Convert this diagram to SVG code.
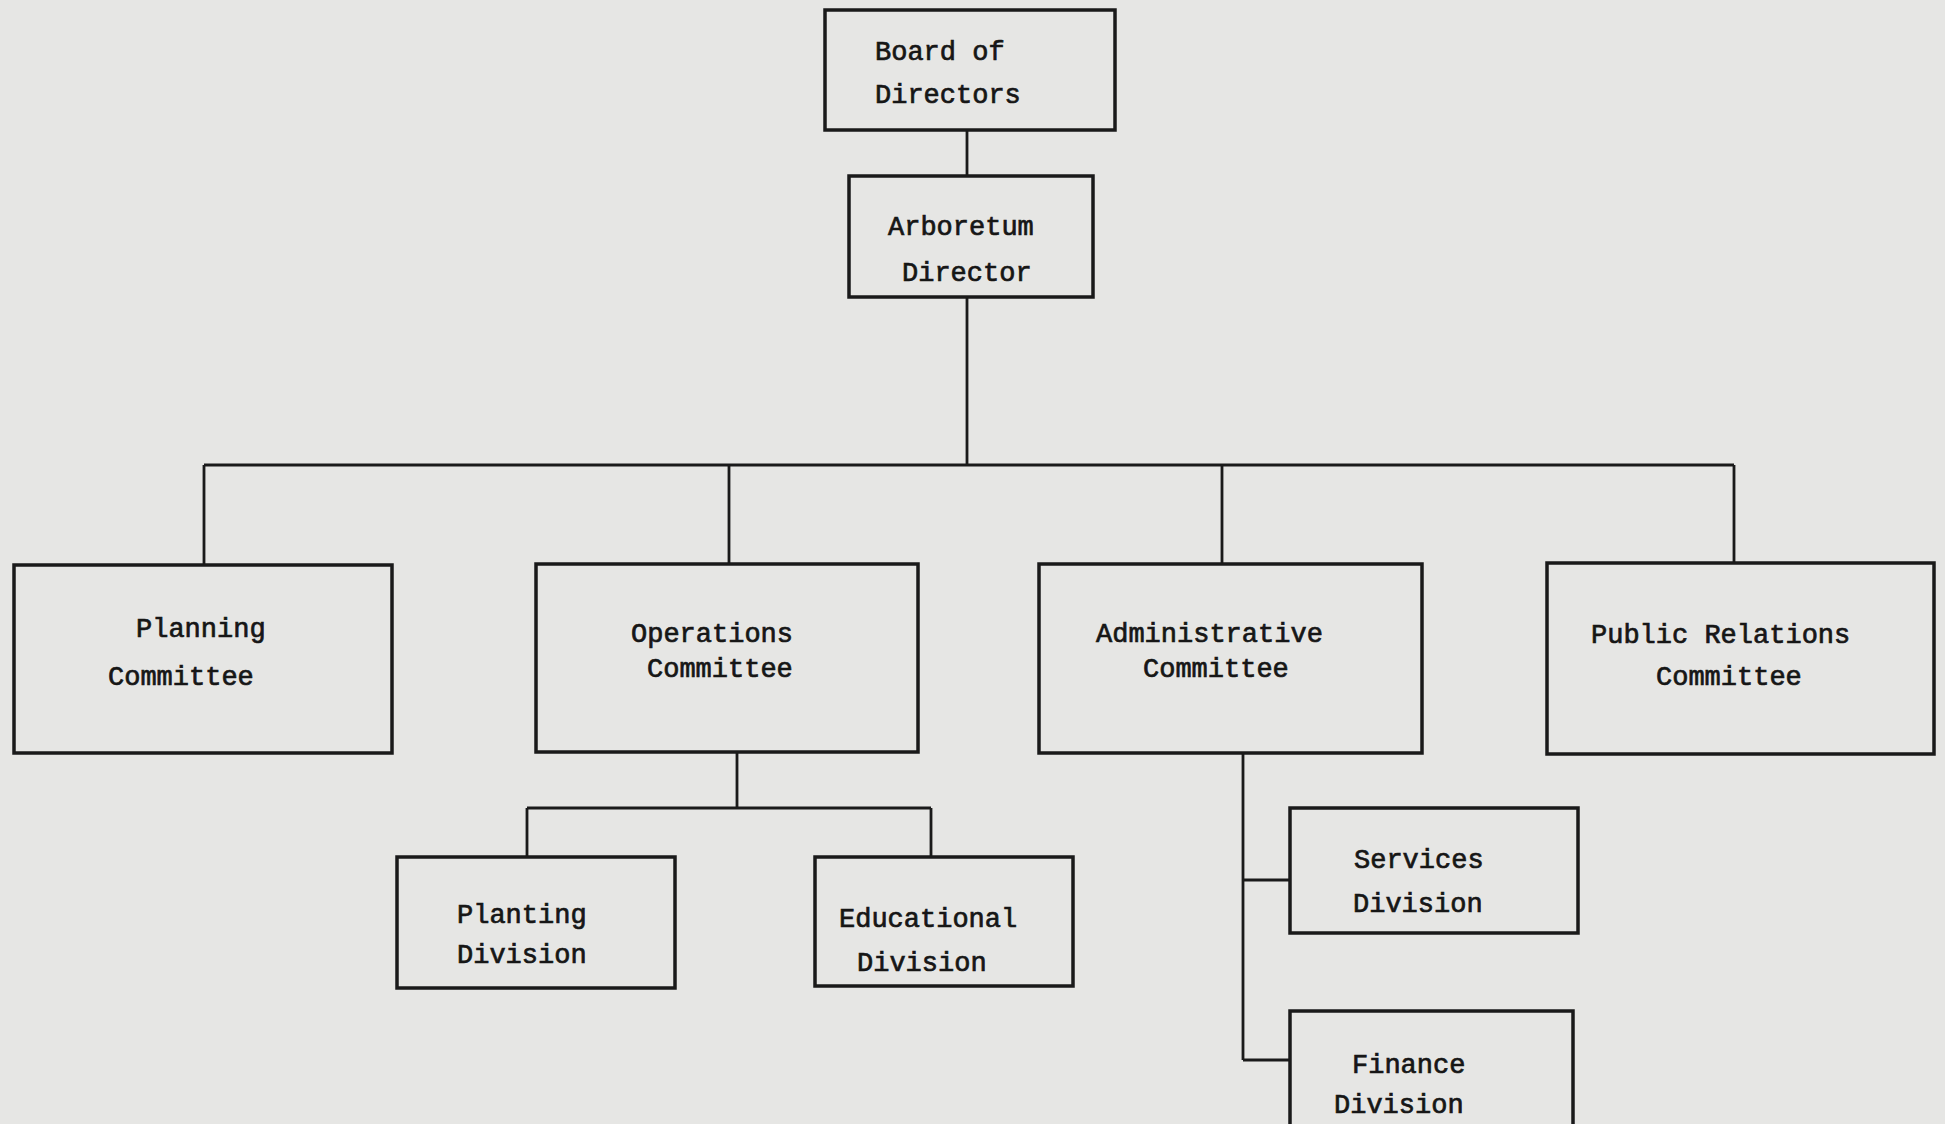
<svg xmlns="http://www.w3.org/2000/svg" width="1945" height="1124" viewBox="0 0 1945 1124">
<style>
.bg{fill:#e6e6e4}
.box{fill:none;stroke:#1a1a1a;stroke-width:3.5}
.ln{fill:none;stroke:#1a1a1a;stroke-width:2.8}
text{font-family:"Liberation Mono","Courier New",monospace;font-size:27px;fill:#161616;stroke:#161616;stroke-width:0.7}
</style>
<rect class="bg" x="0" y="0" width="1945" height="1124"/>
<g id="connectors">
<path class="ln" d="M967 130V176"/>
<path class="ln" d="M967 297V465"/>
<path class="ln" d="M204 465H1734"/>
<path class="ln" d="M204 465V565M729 465V564M1222 465V564M1734 465V563"/>
<path class="ln" d="M737 752V808M527 808H931M527 808V857M931 808V857"/>
<path class="ln" d="M1243 753V1060M1243 880H1290M1243 1060H1290"/>
</g>
<g id="board">
<rect class="box" x="825" y="10" width="290" height="120"/>
<text x="875" y="60">Board of</text>
<text x="875" y="103">Directors</text>
</g>
<g id="arboretum">
<rect class="box" x="849" y="176" width="244" height="121"/>
<text x="888" y="235">Arboretum</text>
<text x="902" y="281">Director</text>
</g>
<g id="planning">
<rect class="box" x="14" y="565" width="378" height="188"/>
<text x="136" y="637">Planning</text>
<text x="108" y="685">Committee</text>
</g>
<g id="operations">
<rect class="box" x="536" y="564" width="382" height="188"/>
<text x="631" y="642">Operations</text>
<text x="647" y="677">Committee</text>
</g>
<g id="administrative">
<rect class="box" x="1039" y="564" width="383" height="189"/>
<text x="1096" y="642">Administrative</text>
<text x="1143" y="677">Committee</text>
</g>
<g id="publicrelations">
<rect class="box" x="1547" y="563" width="387" height="191"/>
<text x="1591" y="643">Public Relations</text>
<text x="1656" y="685">Committee</text>
</g>
<g id="planting">
<rect class="box" x="397" y="857" width="278" height="131"/>
<text x="457" y="923">Planting</text>
<text x="457" y="963">Division</text>
</g>
<g id="educational">
<rect class="box" x="815" y="857" width="258" height="129"/>
<text x="839" y="927">Educational</text>
<text x="857" y="971">Division</text>
</g>
<g id="services">
<rect class="box" x="1290" y="808" width="288" height="125"/>
<text x="1354" y="868">Services</text>
<text x="1353" y="912">Division</text>
</g>
<g id="finance">
<rect class="box" x="1290" y="1011" width="283" height="130"/>
<text x="1352" y="1073">Finance</text>
<text x="1334" y="1113">Division</text>
</g>
</svg>
